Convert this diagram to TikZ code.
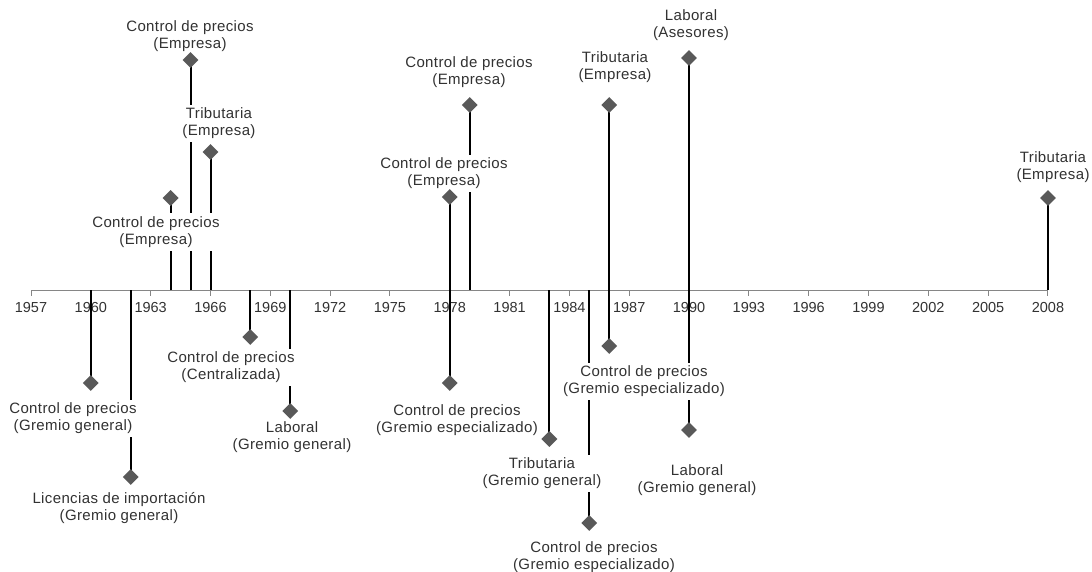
\documentclass[tikz,border=0pt]{standalone}
\usepackage{fontspec}
\setmainfont{Liberation Sans}
\newfontfamily\lblfont[LetterSpace=2.5]{Liberation Sans}
\usetikzlibrary{shapes.geometric}
\definecolor{axisgray}{RGB}{134,134,134}
\definecolor{markgray}{RGB}{89,89,89}
\definecolor{txtgray}{RGB}{50,50,50}
\tikzset{
  mk/.style={diamond, fill=markgray, draw=none, inner sep=0pt,
             minimum width=16pt, minimum height=16pt},
  stem/.style={line width=2pt, black},
  lbl/.style={fill=white, align=center, text=txtgray,
              font=\lblfont\fontsize{15}{17}\selectfont, inner xsep=2pt, inner ysep=3.5pt},
  yearlbl/.style={text=txtgray, font=\fontsize{14.5}{17}\selectfont, inner sep=0pt},
  axisline/.style={axisgray, line width=1pt},
}
\begin{document}
\begin{tikzpicture}[x=1pt,y=-1pt]
\useasboundingbox (0,0) rectangle (1092,572);

% time axis with a tick and year every three years
\coordinate (axL) at (31,290);
\coordinate (axR) at (1048,290);
\draw[axisline] (axL) -- (axR);
\foreach \yr in {1957,1960,...,2008}{
  \pgfmathsetmacro\xx{31+(\yr-1957)*19.94}
  \coordinate (tk\yr) at (\xx,290);
  \coordinate (tb\yr) at (\xx,296);
  \draw[axisline] (tk\yr) -- (tb\yr);
  \node[yearlbl] (yl\yr) at (\xx,308) {\yr};
}

% event stems: from the axis to the marker position
\foreach \n/\xx/\yy in {
  1/190.5/60, 2/210.5/152, 3/170.6/198, 4/449.7/197, 5/469.7/105,
  6/609.3/105, 7/689/58, 8/1048/198,
  9/90.8/383, 10/130.7/477, 11/250.3/337, 12/290.2/411, 13/449.7/383,
  14/549.4/439, 15/589.3/523, 16/609.3/346, 17/689/430}{
  \coordinate (b\n) at (\xx,290);
  \coordinate (p\n) at (\xx,\yy);
  \draw[stem] (b\n) -- (p\n);
}

% event labels (white boxes cover the stems behind them)
\node[lbl] (l1)  at (190,36)    {Control de precios\\(Empresa)};
\node[lbl] (l2)  at (219,123.5) {Tributaria\\(Empresa)};
\node[lbl] (l3)  at (156,232)   {Control de precios\\(Empresa)};
\node[lbl] (l4)  at (444,173.5) {Control de precios\\(Empresa)};
\node[lbl] (l5)  at (469,72.5)  {Control de precios\\(Empresa)};
\node[lbl] (l6)  at (615,67)    {Tributaria\\(Empresa)};
\node[lbl] (l7)  at (691,25.5)  {Laboral\\(Asesores)};
\node[lbl] (l8)  at (1053,167)  {Tributaria\\(Empresa)};
\node[lbl] (l9)  at (73,418.5)  {Control de precios\\(Gremio general)};
\node[lbl] (l10) at (119,508.5) {Licencias de importación\\(Gremio general)};
\node[lbl] (l11) at (231,367.5) {Control de precios\\(Centralizada)};
\node[lbl] (l12) at (292,437.5) {Laboral\\(Gremio general)};
\node[lbl] (l13) at (457,420.5) {Control de precios\\(Gremio especializado)};
\node[lbl] (l14) at (542,473.5) {Tributaria\\(Gremio general)};
\node[lbl] (l15) at (594,557)   {Control de precios\\(Gremio especializado)};
\node[lbl] (l16) at (644,381.5) {Control de precios\\(Gremio especializado)};
\node[lbl] (l17) at (697,480.5) {Laboral\\(Gremio general)};

% diamond markers on top
\foreach \n in {1,...,17}{
  \node[mk] (m\n) at (p\n) {};
}
\end{tikzpicture}
\end{document}
